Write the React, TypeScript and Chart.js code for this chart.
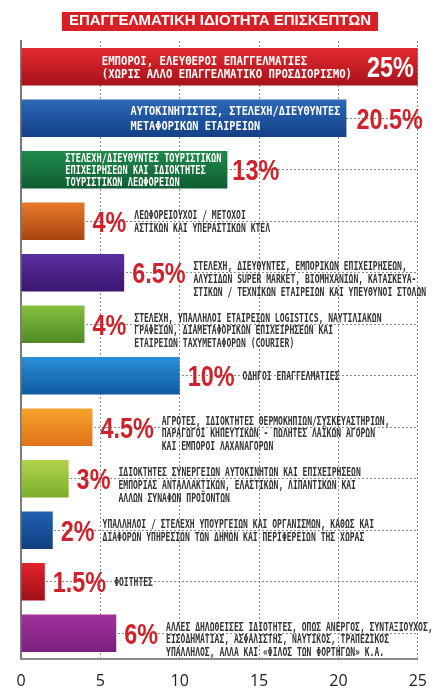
import React, { useEffect, useRef } from "react";
import { Chart, registerables } from "chart.js";
Chart.register(...registerables);

const TITLE = "ΕΠΑΓΓΕΛΜΑΤΙΚΗ ΙΔΙΟΤΗΤΑ ΕΠΙΣΚΕΠΤΩΝ";

const categories: string[][] = [
  ["ΕΜΠΟΡΟΙ, ΕΛΕΥΘΕΡΟΙ ΕΠΑΓΓΕΛΜΑΤΙΕΣ", "(ΧΩΡΙΣ ΑΛΛΟ ΕΠΑΓΓΕΛΜΑΤΙΚΟ ΠΡΟΣΔΙΟΡΙΣΜΟ)"],
  ["ΑΥΤΟΚΙΝΗΤΙΣΤΕΣ, ΣΤΕΛΕΧΗ/ΔΙΕΥΘΥΝΤΕΣ", "ΜΕΤΑΦΟΡΙΚΩΝ ΕΤΑΙΡΕΙΩΝ"],
  ["ΣΤΕΛΕΧΗ/ΔΙΕΥΘΥΝΤΕΣ ΤΟΥΡΙΣΤΙΚΩΝ", "ΕΠΙΧΕΙΡΗΣΕΩΝ ΚΑΙ ΙΔΙΟΚΤΗΤΕΣ", "ΤΟΥΡΙΣΤΙΚΩΝ ΛΕΩΦΟΡΕΙΩΝ"],
  ["ΛΕΩΦΟΡΕΙΟΥΧΟΙ / ΜΕΤΟΧΟΙ", "ΑΣΤΙΚΩΝ ΚΑΙ ΥΠΕΡΑΣΤΙΚΩΝ ΚΤΕΛ"],
  ["ΣΤΕΛΕΧΗ, ΔΙΕΥΘΥΝΤΕΣ, ΕΜΠΟΡΙΚΩΝ ΕΠΙΧΕΙΡΗΣΕΩΝ,", "ΑΛΥΣΙΔΩΝ SUPER MARKET, ΒΙΟΜΗΧΑΝΙΩΝ, ΚΑΤΑΣΚΕΥΑ-", "ΣΤΙΚΩΝ / ΤΕΧΝΙΚΩΝ ΕΤΑΙΡΕΙΩΝ ΚΑΙ ΥΠΕΥΘΥΝΟΙ ΣΤΟΛΩΝ"],
  ["ΣΤΕΛΕΧΗ, ΥΠΑΛΛΗΛΟΙ ΕΤΑΙΡΕΙΩΝ LOGISTICS, ΝΑΥΤΙΛΙΑΚΩΝ", "ΓΡΑΦΕΙΩΝ, ΔΙΑΜΕΤΑΦΟΡΙΚΩΝ ΕΠΙΧΕΙΡΗΣΕΩΝ ΚΑΙ", "ΕΤΑΙΡΕΙΩΝ ΤΑΧΥΜΕΤΑΦΟΡΩΝ (COURIER)"],
  ["ΟΔΗΓΟΙ ΕΠΑΓΓΕΛΜΑΤΙΕΣ"],
  ["ΑΓΡΟΤΕΣ, ΙΔΙΟΚΤΗΤΕΣ ΘΕΡΜΟΚΗΠΙΩΝ/ΣΥΣΚΕΥΑΣΤΗΡΙΩΝ,", "ΠΑΡΑΓΩΓΟΙ ΚΗΠΕΥΤΙΚΩΝ - ΠΩΛΗΤΕΣ ΛΑΪΚΩΝ ΑΓΟΡΩΝ", "ΚΑΙ ΕΜΠΟΡΟΙ ΛΑΧΑΝΑΓΟΡΩΝ"],
  ["ΙΔΙΟΚΤΗΤΕΣ ΣΥΝΕΡΓΕΙΩΝ ΑΥΤΟΚΙΝΗΤΩΝ ΚΑΙ ΕΠΙΧΕΙΡΗΣΕΩΝ", "ΕΜΠΟΡΙΑΣ ΑΝΤΑΛΛΑΚΤΙΚΩΝ, ΕΛΑΣΤΙΚΩΝ, ΛΙΠΑΝΤΙΚΩΝ ΚΑΙ", "ΑΛΛΩΝ ΣΥΝΑΦΩΝ ΠΡΟΪΟΝΤΩΝ"],
  ["ΥΠΑΛΛΗΛΟΙ / ΣΤΕΛΕΧΗ ΥΠΟΥΡΓΕΙΩΝ ΚΑΙ ΟΡΓΑΝΙΣΜΩΝ, ΚΑΘΩΣ ΚΑΙ", "ΔΙΑΦΟΡΩΝ ΥΠΗΡΕΣΙΩΝ ΤΩΝ ΔΗΜΩΝ ΚΑΙ ΠΕΡΙΦΕΡΕΙΩΝ ΤΗΣ ΧΩΡΑΣ"],
  ["ΦΟΙΤΗΤΕΣ"],
  ["ΑΛΛΕΣ ΔΗΛΩΘΕΙΣΕΣ ΙΔΙΟΤΗΤΕΣ, ΟΠΩΣ ΑΝΕΡΓΟΣ, ΣΥΝΤΑΞΙΟΥΧΟΣ,", "ΕΙΣΟΔΗΜΑΤΙΑΣ, ΑΣΦΑΛΙΣΤΗΣ, ΝΑΥΤΙΚΟΣ, ΤΡΑΠΕΖΙΚΟΣ", "ΥΠΑΛΛΗΛΟΣ, ΑΛΛΑ ΚΑΙ «ΦΙΛΟΣ ΤΩΝ ΦΟΡΤΗΓΩΝ» Κ.Α."],
];

const values: number[] = [25, 20.5, 13, 4, 6.5, 4, 10, 4.5, 3, 2, 1.5, 6];

const percentLabels: string[] = values.map((v) => `${v}%`);

// "inside": text + % inside bar; "insideText": text inside, % outside; "outside": both outside
const labelModes: string[] = [
  "inside", "insideText", "insideText", "outside", "outside", "outside",
  "outside", "outside", "outside", "outside", "outside", "outside",
];

const xTicks: number[] = [0, 5, 10, 15, 20, 25];

const barTopColors: string[] = [
  "#e62a30", "#2c68b8", "#1f8a4c", "#e8792a", "#5b2fa0", "#86bf3e",
  "#2a90d8", "#f7a52a", "#b3d34b", "#2062b2", "#e3222b", "#a2329c",
];
const barBottomColors: string[] = [
  "#a6121a", "#133f86", "#0f5c33", "#a8450f", "#3a1670", "#4f8a26",
  "#0f5aa0", "#e0701a", "#7aae2a", "#0f3e80", "#a01018", "#7a1f7f",
];

const MONO = "'DejaVu Sans Mono', monospace";
const PCT_FONT = "'Liberation Sans', Arial, sans-serif";

type TextStyle = { size: number; sx: number; lh: number; off3: number; color: string; gap: number };
const STYLE_ROW1: TextStyle = { size: 13, sx: 0.82, lh: 13.5, off3: 0, color: "#ffffff", gap: 15 };
const STYLE_ROW2: TextStyle = { size: 12.5, sx: 0.82, lh: 15, off3: 0, color: "#ffffff", gap: 10 };
const STYLE_ROW3: TextStyle = { size: 12, sx: 0.72, lh: 11.7, off3: 0, color: "#ffffff", gap: 5 };
const STYLE_OUT: TextStyle = { size: 11.5, sx: 0.7, lh: 12.8, off3: 6, color: "#333333", gap: 8 };
const PCT_SIZE = 30;
const PCT_SX = 0.78;
const PCT_RED = "#cf222a";

function setTextFont(ctx: CanvasRenderingContext2D, st: TextStyle) {
  ctx.font = `bold ${st.size}px ${MONO}`;
}

function blockWidth(ctx: CanvasRenderingContext2D, lines: string[], st: TextStyle) {
  ctx.save();
  setTextFont(ctx, st);
  let w = 0;
  lines.forEach((ln) => {
    w = Math.max(w, ctx.measureText(ln).width * st.sx);
  });
  ctx.restore();
  return w;
}

function drawLines(ctx: CanvasRenderingContext2D, lines: string[], x: number, cy: number, st: TextStyle) {
  ctx.save();
  setTextFont(ctx, st);
  ctx.fillStyle = st.color;
  ctx.textAlign = "left";
  ctx.textBaseline = "alphabetic";
  const n = lines.length;
  const cap = st.size * 0.73;
  lines.forEach((ln, k) => {
    const lc = cy + (k - (n - 1) / 2) * st.lh + (n >= 3 ? st.off3 : 0);
    ctx.save();
    ctx.translate(x, lc + cap / 2);
    ctx.scale(st.sx, 1);
    ctx.fillText(ln, 0, 0);
    ctx.restore();
  });
  ctx.restore();
}

function pctWidth(ctx: CanvasRenderingContext2D, text: string) {
  ctx.save();
  ctx.font = `bold ${PCT_SIZE}px ${PCT_FONT}`;
  const w = ctx.measureText(text).width * PCT_SX;
  ctx.restore();
  return w;
}

function drawPct(ctx: CanvasRenderingContext2D, text: string, x: number, cy: number, color: string, alignRight: boolean) {
  const w = pctWidth(ctx, text);
  const left = alignRight ? x - w : x;
  ctx.save();
  ctx.font = `bold ${PCT_SIZE}px ${PCT_FONT}`;
  ctx.fillStyle = color;
  ctx.textAlign = "left";
  ctx.textBaseline = "alphabetic";
  ctx.translate(left, cy + (PCT_SIZE * 0.716) / 2);
  ctx.scale(PCT_SX, 1);
  ctx.fillText(text, 0, 0);
  ctx.restore();
  return w;
}

const titleBoxPlugin = {
  id: "titleBox",
  beforeDraw(chart: any) {
    const ctx: CanvasRenderingContext2D = chart.ctx;
    const tb = chart.titleBlock;
    if (!tb) return;
    ctx.save();
    ctx.font = "bold 15px 'Liberation Sans', Arial, sans-serif";
    const w = ctx.measureText(TITLE).width;
    const cx = (tb.left + tb.right) / 2;
    ctx.fillStyle = "#d71f26";
    ctx.fillRect(cx - w / 2 - 7, 12, w + 14, 19);
    ctx.restore();
  },
};

const labelPlugin = {
  id: "barLabels",
  afterDatasetsDraw(chart: any) {
    const ctx: CanvasRenderingContext2D = chart.ctx;
    const meta = chart.getDatasetMeta(0);
    meta.data.forEach((bar: any, i: number) => {
      const p = bar.getProps(["x", "y", "base"], true);
      const x = p.x;
      const cy = p.y;
      const lines = categories[i];
      const pct = percentLabels[i];
      const mode = labelModes[i];
      if (mode === "inside") {
        const pw = drawPct(ctx, pct, x - 4, cy, "#ffffff", true);
        const bw = blockWidth(ctx, lines, STYLE_ROW1);
        drawLines(ctx, lines, x - 4 - pw - STYLE_ROW1.gap - bw, cy, STYLE_ROW1);
      } else if (mode === "insideText") {
        const st = i === 1 ? STYLE_ROW2 : STYLE_ROW3;
        const bw = blockWidth(ctx, lines, st);
        drawLines(ctx, lines, x - 6 - bw, cy, st);
        drawPct(ctx, pct, x + st.gap, cy, PCT_RED, false);
      } else {
        const pw = drawPct(ctx, pct, x + STYLE_OUT.gap, cy, PCT_RED, false);
        drawLines(ctx, lines, x + STYLE_OUT.gap + pw + 8, cy, STYLE_OUT);
      }
    });
  },
};

export default function App() {
  const canvasRef = useRef<HTMLCanvasElement | null>(null);

  useEffect(() => {
    document.body.style.margin = "0";
    const canvas = canvasRef.current;
    if (!canvas) return;
    const chart = new Chart(canvas, {
      type: "bar",
      data: {
        labels: categories.map((c) => c.join(" ")),
        datasets: [
          {
            data: values,
            backgroundColor: (c: any) => {
              const chart = c.chart;
              const i = c.dataIndex;
              const ys = chart.scales && chart.scales.y;
              if (!chart.chartArea || !ys || i === undefined) return barTopColors[i ?? 0];
              const cy = ys.getPixelForValue(i);
              const g = chart.ctx.createLinearGradient(0, cy - 19, 0, cy + 19);
              g.addColorStop(0, barTopColors[i]);
              g.addColorStop(1, barBottomColors[i]);
              return g;
            },
            borderWidth: 0,
            barPercentage: 0.73,
            categoryPercentage: 1,
          },
        ],
      },
      options: {
        indexAxis: "y",
        responsive: false,
        animation: false,
        devicePixelRatio: 1,
        layout: { padding: { left: 21, right: 21, top: 0, bottom: 0 } },
        plugins: {
          legend: { display: false },
          tooltip: { enabled: false },
          title: {
            display: true,
            text: TITLE,
            color: "#ffffff",
            font: { family: "'Liberation Sans', Arial, sans-serif", size: 15, weight: "bold", lineHeight: 1.2 },
            padding: { top: 12, bottom: 11 },
          },
        },
        scales: {
          x: {
            type: "linear",
            min: 0,
            max: 25,
            afterBuildTicks: (axis: any) => {
              axis.ticks = xTicks.map((v) => ({ value: v }));
            },
            afterFit: (axis: any) => {
              axis.height = 35;
            },
            ticks: {
              color: "#222222",
              font: { family: "'Open Sans', sans-serif", size: 16 },
              padding: 13,
            },
            grid: { color: "#8a8a8a", lineWidth: 1, drawTicks: false },
            border: { display: true, color: "#8c8c8c", width: 2, dash: [2, 2] },
          },
          y: {
            type: "category",
            ticks: { display: false },
            grid: { color: "#8a8a8a", lineWidth: 1, drawTicks: false, offset: false },
            border: { display: true, color: "#7a7a7a", width: 2, dash: [2, 2] },
          },
        },
      },
      plugins: [titleBoxPlugin, labelPlugin],
    } as any);
    return () => chart.destroy();
  }, []);

  return (
    <div style={{ width: 440, height: 694, background: "#ffffff" }}>
      <canvas ref={canvasRef} width={440} height={694} style={{ display: "block" }} />
    </div>
  );
}
